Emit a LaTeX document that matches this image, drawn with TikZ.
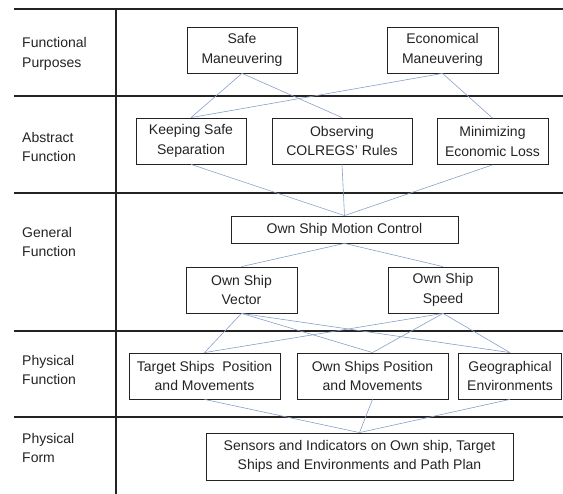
\documentclass[tikz,border=0pt]{standalone}
\usepackage{fontspec}
\setmainfont{Liberation Sans}
\definecolor{linkblue}{RGB}{135,160,200}
\definecolor{ink}{RGB}{35,35,35}
\begin{document}
\begin{tikzpicture}[x=1pt,y=-1pt,
  box/.style={draw=ink, line width=0.8pt, inner sep=0pt, align=center, text=ink,
    font=\fontsize{14}{19.5}\selectfont},
  lbl/.style={anchor=west, align=left, inner sep=0pt, text=ink,
    font=\fontsize{14}{19.5}\selectfont},
  link/.style={draw=linkblue, line width=0.6pt},
  gridline/.style={line width=1.6pt, draw=ink}]
\useasboundingbox (0,0) rectangle (563,494);
% grid
\draw[gridline] (14,9) -- (563,9);
\draw[gridline] (14,96) -- (563,96);
\draw[gridline] (14,193) -- (563,193);
\draw[gridline] (14,331) -- (563,331);
\draw[gridline] (14,417) -- (563,417);
\draw[gridline] (116,9) -- (116,494);
% row labels
\node[lbl] (l1) at (22,54) {Functional\\Purposes};
\node[lbl] (l2) at (22,147) {Abstract\\Function};
\node[lbl] (l3) at (22,242) {General\\Function};
\node[lbl] (l4) at (22,370) {Physical\\Function};
\node[lbl] (l5) at (22,448) {Physical\\Form};
% boxes
\node[box, minimum width=110, minimum height=46] (safe) at (242,50) {Safe\\Maneuvering};
\node[box, minimum width=111, minimum height=46] (econ) at (442.5,50) {Economical\\Maneuvering};
\node[box, minimum width=110, minimum height=46] (keep) at (191,141) {Keeping Safe\\Separation};
\node[box, minimum width=140, minimum height=46] (obs) at (342,141) {Observing\\COLREGS' Rules};
\node[box, minimum width=111, minimum height=46] (mini) at (492.5,141.5) {Minimizing\\Economic Loss};
\node[box, minimum width=227, minimum height=27] (motion) at (344.5,229.5) {Own Ship Motion Control};
\node[box, minimum width=111, minimum height=46] (vec) at (241.5,290) {Own Ship\\Vector};
\node[box, minimum width=110, minimum height=46] (speed) at (443,290) {Own Ship\\Speed};
\node[box, minimum width=151, minimum height=46] (target) at (204.5,376) {Target Ships\ \ Position\\and Movements};
\node[box, minimum width=151, minimum height=46] (ownpos) at (372.5,376) {Own Ships Position\\and Movements};
\node[box, minimum width=103, minimum height=46] (geo) at (510,376) {Geographical\\Environments};
\node[box, minimum width=307, minimum height=47] (sens) at (359.5,456.5) {Sensors and Indicators on Own ship, Target\\Ships and Environments and Path Plan};
% connectors
\draw[link] (safe.south) -- (keep.north);
\draw[link] (safe.south) -- (obs.north);
\draw[link] (econ.south) -- (keep.north);
\draw[link] (econ.south) -- (mini.north);
\draw[link] (keep.south) -- (motion.north);
\draw[link] (obs.south) -- (motion.north);
\draw[link] (mini.south) -- (motion.north);
\draw[link] (motion.south) -- (vec.north);
\draw[link] (motion.south) -- (speed.north);
\draw[link] (vec.south) -- (target.north);
\draw[link] (vec.south) -- (ownpos.north);
\draw[link] (vec.south) -- (geo.north);
\draw[link] (speed.south) -- (target.north);
\draw[link] (speed.south) -- (ownpos.north);
\draw[link] (speed.south) -- (geo.north);
\draw[link] (target.south) -- (sens.north);
\draw[link] (ownpos.south) -- (sens.north);
\draw[link] (geo.south) -- (sens.north);
\end{tikzpicture}
\end{document}
